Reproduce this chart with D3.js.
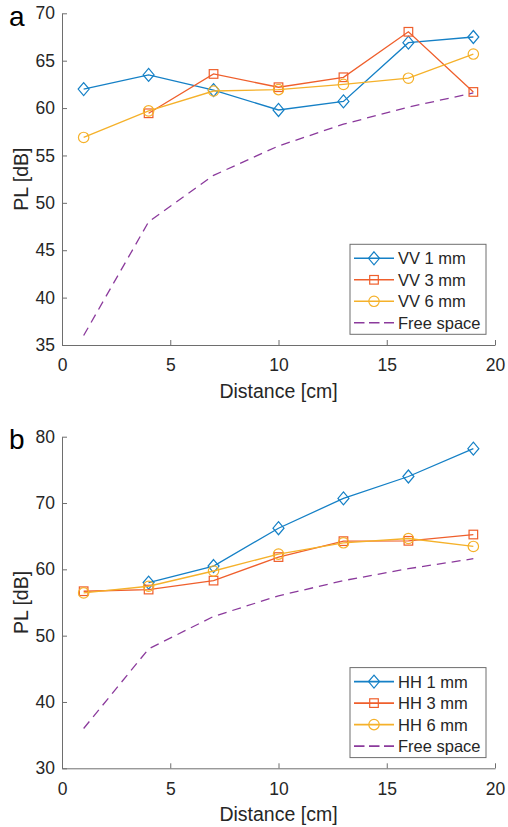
<!DOCTYPE html>
<html>
<head>
<meta charset="utf-8">
<script src="https://cdn.jsdelivr.net/npm/d3@7"></script>
<style>
  body { margin: 0; background: #fff; }
  svg { display: block; font-family: "Liberation Sans", Arial, Helvetica, sans-serif; }
</style>
</head>
<body>
<div id="chart"></div>
<script>
const distances = [1, 4, 7, 10, 13, 16, 19];

// panel a (VV)
const vv1 = [62.0, 63.5, 61.9, 59.8, 60.7, 66.9, 67.5];
const vv3 = [null, 59.45, 63.6, 62.2, 63.25, 68.05, 61.7];
const vv6 = [56.9, 59.7, 61.8, 61.95, 62.5, 63.15, 65.7];

// panel b (HH)
const hh1 = [null, 58.0, 60.5, 66.2, 70.7, 74.0, 78.2];
const hh3 = [56.7, 56.95, 58.3, 61.85, 64.25, 64.3, 65.25];
const hh6 = [56.45, 57.45, 59.75, 62.3, 64.0, 64.65, 63.45];

const freeSpace = [36.0, 48.0, 52.9, 56.0, 58.3, 60.1, 61.6];

const xTicks = [0, 5, 10, 15, 20];
const yTicksA = [35, 40, 45, 50, 55, 60, 65, 70];
const yTicksB = [30, 40, 50, 60, 70, 80];

const colors = ["#1580c6", "#ef5f2c", "#f5b12a", "#8b3a9c"];
const markers = ["diamond", "square", "circle"];

const w = 508, h = 827;
const svg = d3.select("#chart").append("svg")
  .attr("width", w)
  .attr("height", h);

const textCol = "#262626";

const drawMarker = (g, type, cx, cy, col) => {
  if (type === "diamond") {
    g.append("path")
      .attr("d", `M${cx},${cy - 6.5}L${cx + 5.5},${cy}L${cx},${cy + 6.5}L${cx - 5.5},${cy}Z`)
      .attr("fill", "none").attr("stroke", col).attr("stroke-width", 1.2);
  } else if (type === "square") {
    g.append("rect")
      .attr("x", cx - 4.3).attr("y", cy - 4.3)
      .attr("width", 8.6).attr("height", 8.6)
      .attr("fill", "none").attr("stroke", col).attr("stroke-width", 1.2);
  } else {
    g.append("circle")
      .attr("cx", cx).attr("cy", cy).attr("r", 5.2)
      .attr("fill", "none").attr("stroke", col).attr("stroke-width", 1.2);
  }
};

const buildPanel = (cfg) => {
  const { top, bottom, yDomain, yTicks, series, names, letter } = cfg;
  const g = svg.append("g");

  const x = d3.scaleLinear().domain([0, 20]).range([62, 495]);
  const y = d3.scaleLinear().domain(yDomain).range([bottom, top]);

  const xAxis = g.append("g")
    .attr("transform", `translate(0,${bottom})`)
    .call(d3.axisBottom(x).tickValues(xTicks).tickSizeInner(-5).tickSizeOuter(0).tickPadding(14));
  const yAxis = g.append("g")
    .attr("transform", `translate(62,0)`)
    .call(d3.axisLeft(y).tickValues(yTicks).tickSizeInner(-5).tickSizeOuter(0).tickPadding(7));

  [xAxis, yAxis].forEach(a => {
    a.selectAll("path, line").attr("stroke", "#6e6e6e").attr("stroke-width", 1);
    a.selectAll("text").attr("fill", textCol).attr("font-size", "17.5px");
  });

  g.append("text")
    .attr("x", 278.5).attr("y", bottom + 53)
    .attr("text-anchor", "middle")
    .attr("font-size", "19.5px").attr("fill", textCol)
    .text("Distance [cm]");

  g.append("text")
    .attr("transform", `translate(28,${(top + bottom) / 2}) rotate(-90)`)
    .attr("text-anchor", "middle")
    .attr("font-size", "19.5px").attr("fill", textCol)
    .text("PL [dB]");

  g.append("text")
    .attr("x", 9).attr("y", top + 12.5)
    .attr("font-size", "28px").attr("fill", "#000")
    .text(letter);

  const line = d3.line()
    .defined(d => d.v !== null)
    .x(d => x(d.d))
    .y(d => y(d.v));

  series.forEach((vals, i) => {
    const pts = distances.map((d, j) => ({ d, v: vals[j] }));
    g.append("path")
      .datum(pts)
      .attr("d", line)
      .attr("fill", "none")
      .attr("stroke", colors[i])
      .attr("stroke-width", 1.3);
    pts.filter(p => p.v !== null).forEach(p => drawMarker(g, markers[i], x(p.d), y(p.v), colors[i]));
  });

  const fsPts = distances.map((d, j) => ({ d, v: freeSpace[j] }));
  g.append("path")
    .datum(fsPts)
    .attr("d", line)
    .attr("fill", "none")
    .attr("stroke", colors[3])
    .attr("stroke-width", 1.3)
    .attr("stroke-dasharray", "9,6");

  // legend
  const lx = 350, lw = 136, lh = 90;
  const ly = bottom - 100.7;
  const leg = g.append("g");
  leg.append("rect")
    .attr("x", lx).attr("y", ly).attr("width", lw).attr("height", lh)
    .attr("fill", "#fff").attr("stroke", "#6e6e6e").attr("stroke-width", 1);
  names.forEach((name, i) => {
    const cy = ly + 14 + i * 21.5;
    const item = leg.append("g");
    item.append("line")
      .attr("x1", lx + 4).attr("x2", lx + 44)
      .attr("y1", cy).attr("y2", cy)
      .attr("stroke", colors[i]).attr("stroke-width", 1.6)
      .attr("stroke-dasharray", i === 3 ? "10.5,4.5" : null);
    if (i < 3) drawMarker(item, markers[i], lx + 24, cy, colors[i]);
    item.append("text")
      .attr("x", lx + 48).attr("y", cy + 6)
      .attr("font-size", "16.5px").attr("fill", textCol)
      .text(name);
  });
};

buildPanel({
  top: 13.3, bottom: 345, yDomain: [35, 70], yTicks: yTicksA,
  series: [vv1, vv3, vv6],
  names: ["VV 1 mm", "VV 3 mm", "VV 6 mm", "Free space"],
  letter: "a"
});

buildPanel({
  top: 436.7, bottom: 768.3, yDomain: [30, 80], yTicks: yTicksB,
  series: [hh1, hh3, hh6],
  names: ["HH 1 mm", "HH 3 mm", "HH 6 mm", "Free space"],
  letter: "b"
});
</script>
</body>
</html>
